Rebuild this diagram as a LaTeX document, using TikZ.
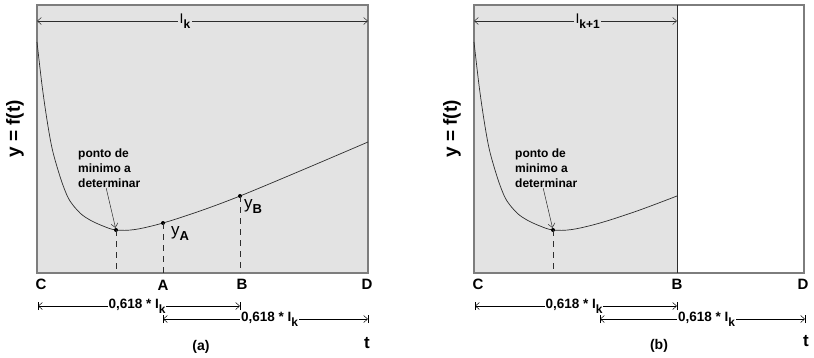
\documentclass[tikz,border=0pt]{standalone}
\usepackage{fontspec}
\setmainfont{Liberation Sans}
\usetikzlibrary{arrows.meta}
\definecolor{boxfill}{RGB}{227,227,227}
\definecolor{boxline}{RGB}{125,125,125}
\definecolor{curvecol}{RGB}{45,45,45}
\newcommand{\fsz}[1]{\fontsize{#1}{#1}\selectfont}
\newcommand{\lowsub}[4]{#1\raisebox{-#3}{\fsz{#4}\bfseries #2}}
\begin{document}
\begin{tikzpicture}[x=1pt,y=-1pt,
  >={Straight Barb[length=4pt,width=7pt]},
  curve/.style={draw=curvecol, line width=0.7pt},
  guide/.style={draw=curvecol, line width=0.7pt, dash pattern=on 6pt off 5pt},
  dot/.style={circle, fill=black, inner sep=0pt, minimum size=4pt},
  letter/.style={font=\fsz{15}\bfseries, inner sep=0pt},
  dimline/.style={draw=black, line width=0.5pt, <->},
  tick/.style={draw=black, line width=0.5pt},
  dimlabel/.style={fill=white, inner sep=1pt, font=\fsz{13.5}\bfseries},
  toplabel/.style={fill=boxfill, inner sep=1.5pt, font=\fsz{14}},
  note/.style={align=left, anchor=north west, inner sep=0pt, font=\fontsize{12}{15}\selectfont\bfseries},
  ylabel/.style={inner sep=0pt, anchor=west, font=\fsz{17}},
  axislabel/.style={rotate=90, inner sep=0pt, font=\fsz{19}\bfseries},
  caption/.style={inner sep=0pt, font=\fsz{14}\bfseries},
  tlabel/.style={inner sep=0pt, font=\fsz{17}\bfseries}
]
\useasboundingbox (0,0) rectangle (814,357);
% ---------------- panel (a) ----------------
\fill[boxfill] (37,5) rectangle (368,273);
\draw[boxline, line width=1.2pt] (37,5) rectangle (368,273);
\coordinate (TLa) at (37,21);
\coordinate (TRa) at (368,21);
\draw[dimline, draw=curvecol] (TLa) -- node[pos=0.447, toplabel] {\lowsub{I}{k}{5pt}{12}} (TRa);
\draw[curve] plot[smooth, tension=0.55] coordinates {(37,42) (42,85) (47,120) (52,148) (58,170) (64,188) (70,201) (80,213) (90,220) (103,226) (116,230) (135,229.5) (163,223) (200,211) (240,196) (300,171) (368,142)};
\coordinate (Ca) at (37,273);
\node[dot] (ma) at (116,230) {};
\node[dot] (ya) at (163,223) {};
\node[dot] (yb) at (240,196) {};
\draw[guide] (ma.center) -- (ma.center |- Ca);
\draw[guide] (ya.center) -- (ya.center |- Ca);
\draw[guide] (yb.center) -- (yb.center |- Ca);
\node[ylabel] (lya) at (171,234) {\lowsub{y}{A}{5pt}{13}};
\node[ylabel] (lyb) at (244,207) {\lowsub{y}{B}{5pt}{13}};
\node[note] (nota) at (78,149) {ponto de\\minimo a\\determinar};
\draw[curvecol, line width=0.5pt, ->] ([xshift=-3pt]nota.south) -- (ma);
\node[letter] (lCa) at (41,284) {C};
\node[letter] (lAa) at (163,285) {A};
\node[letter] (lBa) at (242,284) {B};
\node[letter] (lDa) at (367,284) {D};
\coordinate (d1sa) at (38,306);
\coordinate (d1ea) at (240,306);
\coordinate (d2sa) at (163,319);
\coordinate (d2ea) at (368,319);
\draw[dimline] (d1sa) -- node[pos=0.49, dimlabel] {\lowsub{0,618 * I}{k}{5pt}{12}} (d1ea);
\draw[tick] ([yshift=-4pt]d1sa) -- ([yshift=4pt]d1sa);
\draw[tick] ([yshift=-4pt]d1ea) -- ([yshift=4pt]d1ea);
\draw[dimline] (d2sa) -- node[pos=0.52, dimlabel] {\lowsub{0,618 * I}{k}{5pt}{12}} (d2ea);
\draw[tick] ([yshift=-4pt]d2sa) -- ([yshift=4pt]d2sa);
\draw[tick] ([yshift=-4pt]d2ea) -- ([yshift=4pt]d2ea);
\node[axislabel] (axa) at (15,129) {y = f(t)};
\node[caption] (capa) at (201,347) {(a)};
\node[tlabel] (ta) at (367,343) {t};
% ---------------- panel (b) ----------------
\fill[white] (474,5) rectangle (804,273);
\fill[boxfill] (474,5) rectangle (677,273);
\draw[boxline, line width=1.2pt] (474,5) rectangle (804,273);
\draw[curvecol, line width=0.9pt] (677,5) -- (677,273);
\coordinate (TLb) at (474,21);
\coordinate (TRb) at (677,21);
\draw[dimline, draw=curvecol] (TLb) -- node[pos=0.56, toplabel] {\lowsub{I}{k+1}{5pt}{12}} (TRb);
\draw[curve] plot[smooth, tension=0.55] coordinates {(474,42) (479,85) (484,120) (489,148) (495,170) (501,188) (507,201) (517,213) (527,220) (540,226) (553,230) (572,229.5) (600,223) (637,211) (677,196)};
\coordinate (Cb) at (474,273);
\node[dot] (mb) at (553,230) {};
\draw[guide] (mb.center) -- (mb.center |- Cb);
\node[note] (notb) at (515,149) {ponto de\\minimo a\\determinar};
\draw[curvecol, line width=0.5pt, ->] ([xshift=-3pt]notb.south) -- (mb);
\node[letter] (lCb) at (478,284) {C};
\node[letter] (lBb) at (677,284) {B};
\node[letter] (lDb) at (803,284) {D};
\coordinate (d1sb) at (475,306);
\coordinate (d1eb) at (677,306);
\coordinate (d2sb) at (600,319);
\coordinate (d2eb) at (805,319);
\draw[dimline] (d1sb) -- node[pos=0.49, dimlabel] {\lowsub{0,618 * I}{k}{5pt}{12}} (d1eb);
\draw[tick] ([yshift=-4pt]d1sb) -- ([yshift=4pt]d1sb);
\draw[tick] ([yshift=-4pt]d1eb) -- ([yshift=4pt]d1eb);
\draw[dimline] (d2sb) -- node[pos=0.52, dimlabel] {\lowsub{0,618 * I}{k}{5pt}{12}} (d2eb);
\draw[tick] ([yshift=-4pt]d2sb) -- ([yshift=4pt]d2sb);
\draw[tick] ([yshift=-4pt]d2eb) -- ([yshift=4pt]d2eb);
\node[axislabel] (axb) at (452,129) {y = f(t)};
\node[caption] (capb) at (659,346) {(b)};
\node[tlabel] (tb) at (806,341) {t};
\end{tikzpicture}
\end{document}
